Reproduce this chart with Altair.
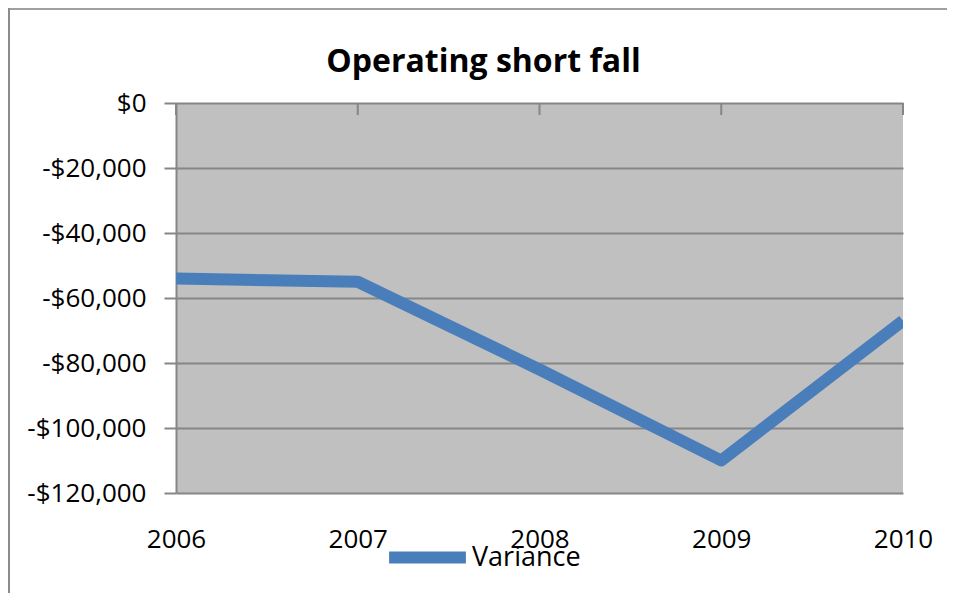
import altair as alt
import pandas as pd

years = [2006, 2007, 2008, 2009, 2010]
variance = [-54000, -55000, -82000, -110000, -67000]
series = ["Variance"] * 5
y_ticks = [0, -20000, -40000, -60000, -80000, -100000, -120000]

df = pd.DataFrame({"year": years, "value": variance, "series": series})
FONT = "Open Sans"
GRID = "#868686"

base = alt.Chart(df)

xs = alt.X("year:Q", scale=alt.Scale(domain=[2006, 2010], nice=False, zero=False),
           axis=alt.Axis(values=years, format="d", title=None, grid=False, domain=False,
                         ticks=False, labelPadding=33, labelFontSize=26, labelFont=FONT,
                         labelColor="black", labelFlush=False))

line = base.mark_line(strokeWidth=12, strokeJoin="round", clip=True).encode(
    x=xs,
    y=alt.Y("value:Q", scale=alt.Scale(domain=[-120000, 0], nice=False),
            axis=alt.Axis(values=y_ticks, title=None, grid=True, gridColor=GRID, gridWidth=2,
                          domain=True, domainColor=GRID, domainWidth=2,
                          ticks=True, tickSize=12, tickColor=GRID, tickWidth=2,
                          labelPadding=18, labelFontSize=26, labelFont=FONT, labelColor="black",
                          labelExpr="datum.value < 0 ? '-$' + format(-datum.value, ',') : '$' + format(datum.value, ',')")),
    color=alt.Color("series:N", scale=alt.Scale(domain=["Variance"], range=["#4A7EBB"]),
                    legend=alt.Legend(title=None, orient="none", legendX=207, legendY=410,
                                      symbolType="stroke", symbolStrokeWidth=12, symbolSize=5900,
                                      labelFontSize=27, labelFont=FONT, labelColor="black",
                                      labelOffset=0)),
)

top_ticks = base.mark_rule(color=GRID, strokeWidth=2).encode(
    x="year:Q", y=alt.value(0), y2=alt.value(12)
)

border_top = base.mark_rule(color="#A0A0A0", strokeWidth=2).encode(
    x=alt.value(-168), x2=alt.value(800), y=alt.value(-94)
)
border_left = base.mark_rule(color="#8C8C8C", strokeWidth=2).encode(
    x=alt.value(-167), y=alt.value(-95), y2=alt.value(500)
)

chart = alt.layer(line, top_ticks, border_top, border_left).properties(
    width=727, height=390,
    autosize=alt.AutoSizeParams(type="none"),
    padding={"left": 168, "top": 95, "right": 44, "bottom": 100},
    title=alt.TitleParams("Operating short fall", font=FONT, fontSize=32, fontWeight="bold",
                          color="black", anchor="middle", baseline="alphabetic",
                          dx=-56, dy=97, offset=0),
).configure_view(fill="#C0C0C0", stroke=None)

chart.save("out.html", embed_options={"renderer": "svg", "actions": False})
